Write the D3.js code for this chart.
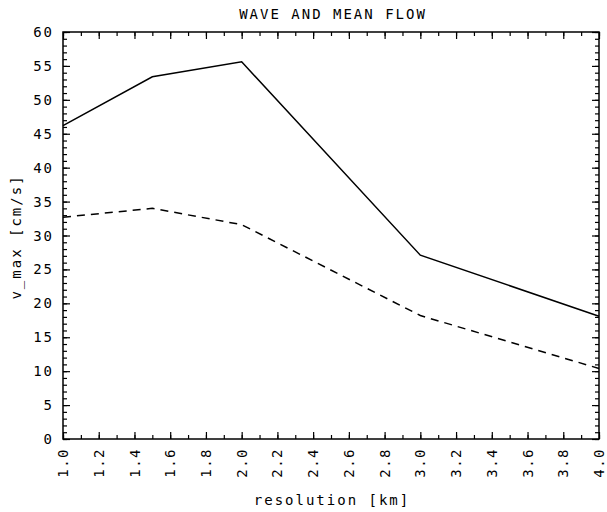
<!DOCTYPE html>
<html lang="en">
<head>
<meta charset="utf-8">
<title>Wave and mean flow</title>
<script src="https://d3js.org/d3.v7.min.js"></script>
<style>
    body { margin: 0; background: white; }
    text { font-family: "DejaVu Sans Mono", monospace; fill: black; }
</style>
</head>
<body>
<svg id="chart" width="607" height="512"></svg>
<script>
    // values
    var resolution = [1.0, 1.5, 2.0, 3.0, 4.0];
    var waveFlow = [46.2, 53.4, 55.6, 27.1, 18.1];   // solid
    var meanFlow = [32.7, 34.0, 31.6, 18.2, 10.4];   // dashed
    var xMajor = [1.0, 1.2, 1.4, 1.6, 1.8, 2.0, 2.2, 2.4, 2.6, 2.8, 3.0, 3.2, 3.4, 3.6, 3.8, 4.0];
    var yMajor = [0, 5, 10, 15, 20, 25, 30, 35, 40, 45, 50, 55, 60];

    // plot box (note: "top" is taken by window.top)
    var plotL = 63, plotR = 599, plotT = 32, plotB = 439;

    var svg = d3.select("#chart");

    var x = d3.scaleLinear().domain([1, 4]).range([plotL, plotR]);
    var y = d3.scaleLinear().domain([0, 60]).range([plotB, plotT]);

    var xMinor = d3.range(10, 41).map(d => d / 10);
    var yMinor = d3.range(0, 61);

    // ticks point inward on all four sides
    function addAxis(gen, tx, ty) {
        var g = svg.append("g")
            .attr("transform", "translate(" + tx + "," + ty + ")")
            .call(gen);
        g.select(".domain").remove();
        g.selectAll("line").attr("stroke", "black").attr("stroke-width", 1.2);
        return g;
    }

    addAxis(d3.axisBottom(x).tickValues(xMinor).tickSize(-4).tickFormat(""), 0, plotB);
    addAxis(d3.axisBottom(x).tickValues(xMajor).tickSize(-7).tickFormat(""), 0, plotB);
    addAxis(d3.axisTop(x).tickValues(xMinor).tickSize(-4).tickFormat(""), 0, plotT);
    addAxis(d3.axisTop(x).tickValues(xMajor).tickSize(-7).tickFormat(""), 0, plotT);
    addAxis(d3.axisLeft(y).tickValues(yMinor).tickSize(-4).tickFormat(""), plotL, 0);
    addAxis(d3.axisLeft(y).tickValues(yMajor).tickSize(-7).tickFormat(""), plotL, 0);
    addAxis(d3.axisRight(y).tickValues(yMinor).tickSize(-4).tickFormat(""), plotR, 0);
    addAxis(d3.axisRight(y).tickValues(yMajor).tickSize(-7).tickFormat(""), plotR, 0);

    svg.append("rect")
        .attr("x", plotL).attr("y", plotT)
        .attr("width", plotR - plotL).attr("height", plotB - plotT)
        .attr("fill", "none").attr("stroke", "black").attr("stroke-width", 1.5);

    // tick labels (letter-spacing adds a trailing gap, so end anchors sit 2px out)
    svg.append("g").selectAll("text")
        .data(yMajor)
        .join("text")
        .attr("x", 54)
        .attr("y", d => y(d))
        .attr("dy", "0.36em")
        .attr("text-anchor", "end")
        .attr("font-size", 14)
        .attr("letter-spacing", 2)
        .text(d => d);

    svg.append("g").selectAll("text")
        .data(xMajor)
        .join("text")
        .attr("transform", d => "translate(" + x(d) + ",448) rotate(-90)")
        .attr("dy", "0.36em")
        .attr("text-anchor", "end")
        .attr("font-size", 14)
        .attr("letter-spacing", 1.5)
        .text(d => d.toFixed(1));

    // lines
    var line = d3.line()
        .x((d, i) => x(resolution[i]))
        .y(d => y(d));

    svg.append("path")
        .attr("d", line(waveFlow))
        .attr("fill", "none")
        .attr("stroke", "black")
        .attr("stroke-width", 1.5);

    svg.append("path")
        .attr("d", line(meanFlow))
        .attr("fill", "none")
        .attr("stroke", "black")
        .attr("stroke-width", 1.5)
        .attr("stroke-dasharray", "8,6");

    // titles
    svg.append("text")
        .attr("x", 333).attr("y", 19)
        .attr("text-anchor", "middle")
        .attr("font-size", 14)
        .attr("letter-spacing", 2)
        .text("WAVE AND MEAN FLOW");

    svg.append("text")
        .attr("x", 332).attr("y", 505)
        .attr("text-anchor", "middle")
        .attr("font-size", 14)
        .attr("letter-spacing", 2)
        .text("resolution [km]");

    svg.append("text")
        .attr("transform", "translate(16,237) rotate(-90)")
        .attr("dy", "0.36em")
        .attr("text-anchor", "middle")
        .attr("font-size", 14)
        .attr("letter-spacing", 2)
        .text("v_max [cm/s]");
</script>
</body>
</html>
